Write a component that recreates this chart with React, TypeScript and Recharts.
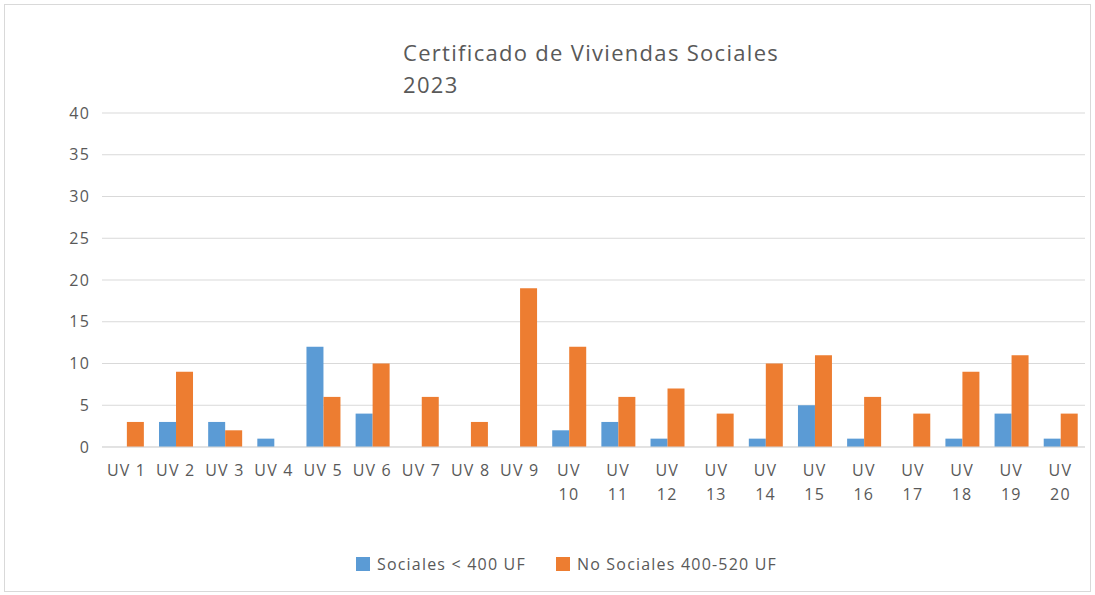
import { Bar, BarChart, CartesianGrid, Legend, XAxis, YAxis } from "recharts";

const unidades = [
  "UV 1", "UV 2", "UV 3", "UV 4", "UV 5", "UV 6", "UV 7", "UV 8", "UV 9", "UV 10",
  "UV 11", "UV 12", "UV 13", "UV 14", "UV 15", "UV 16", "UV 17", "UV 18", "UV 19", "UV 20",
];
const sociales = [0, 3, 3, 1, 12, 4, 0, 0, 0, 2, 3, 1, 0, 1, 5, 1, 0, 1, 4, 1];
const noSociales = [3, 9, 2, 0, 6, 10, 6, 3, 19, 12, 6, 7, 4, 10, 11, 6, 4, 9, 11, 4];
const ticksY = [0, 5, 10, 15, 20, 25, 30, 35, 40];

const datos = unidades.map((uv, i) => ({
  uv,
  sociales: sociales[i],
  noSociales: noSociales[i],
}));

const fuente = "'Open Sans', 'DejaVu Sans', sans-serif";
const gris = "#595959";

function TickUV({ x, y, payload }: any) {
  const texto: string = payload.value;
  const partes = texto.length > 4 ? texto.split(" ") : [texto];
  return (
    <text x={x} y={y} textAnchor="middle" fill={gris} fontSize={16} letterSpacing={1.2} fontFamily={fuente}>
      {partes.map((p, i) => (
        <tspan key={i} x={x} dy={i === 0 ? 21 : 24}>
          {p}
        </tspan>
      ))}
    </text>
  );
}

function Leyenda() {
  const items = [
    { nombre: "Sociales < 400 UF", color: "#5B9BD5" },
    { nombre: "No Sociales 400-520 UF", color: "#ED7D31" },
  ];
  return (
    <div
      style={{
        display: "flex",
        justifyContent: "center",
        gap: 30,
        paddingLeft: 46,
        fontFamily: fuente,
        fontSize: 16,
        letterSpacing: 1.2,
        color: gris,
      }}
    >
      {items.map((it) => (
        <span key={it.nombre} style={{ display: "flex", alignItems: "center", gap: 7 }}>
          <span style={{ width: 14, height: 14, background: it.color, display: "inline-block" }} />
          {it.nombre}
        </span>
      ))}
    </div>
  );
}

export default function App() {
  return (
    <div style={{ position: "absolute", left: 0, top: 0, width: 1095, height: 595, background: "#fff" }}>
      <div
        style={{
          position: "absolute",
          left: 4,
          top: 4,
          width: 1085,
          height: 586,
          border: "1px solid #D9D9D9",
        }}
      />
      <div
        style={{
          position: "absolute",
          left: 403,
          top: 36,
          fontFamily: fuente,
          fontSize: 22,
          letterSpacing: 1.3,
          lineHeight: "32px",
          color: gris,
        }}
      >
        Certificado de Viviendas Sociales
        <br />
        2023
      </div>
      <BarChart
        width={1095}
        height={595}
        data={datos}
        margin={{ top: 113, right: 10, bottom: 64, left: 2 }}
        barCategoryGap="16%"
        barGap={0}
      >
        <CartesianGrid vertical={false} stroke="#D9D9D9" />
        <XAxis
          dataKey="uv"
          interval={0}
          height={60}
          tick={<TickUV />}
          tickLine={false}
          axisLine={{ stroke: "#D9D9D9" }}
        />
        <YAxis
          domain={[0, 40]}
          ticks={ticksY}
          width={100}
          tick={{ fill: gris, fontSize: 16, letterSpacing: 1.2, fontFamily: fuente, dx: -4 }}
          axisLine={false}
          tickLine={false}
        />
        <Legend verticalAlign="bottom" height={24} wrapperStyle={{ bottom: 18 }} content={<Leyenda />} />
        <Bar dataKey="sociales" fill="#5B9BD5" isAnimationActive={false} />
        <Bar dataKey="noSociales" fill="#ED7D31" isAnimationActive={false} />
      </BarChart>
    </div>
  );
}
